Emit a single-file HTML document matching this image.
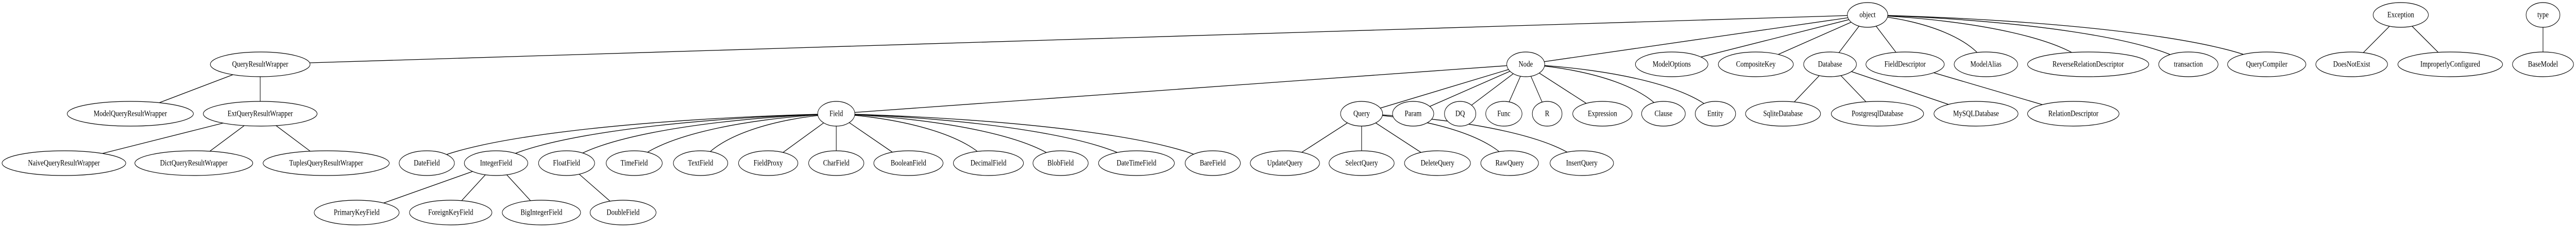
<!DOCTYPE html>
<html><head><meta charset="utf-8"><style>
html,body{margin:0;padding:0;background:#fff;width:100%;height:100%;overflow:hidden;}
svg{display:block;width:100vw;height:100vh;}
text{font-family:"Liberation Serif",serif;font-size:16px;text-anchor:middle;dominant-baseline:central;fill:#000;}
ellipse{fill:#fff;stroke:#000;stroke-width:1.2;}
path,line{stroke:#000;stroke-width:1.3;fill:none;}
</style></head><body>
<svg viewBox="0 0 6247 443" preserveAspectRatio="none" xmlns="http://www.w3.org/2000/svg">
<g>
<line x1="4529" y1="29" x2="631" y2="125"/>
<line x1="4529" y1="29" x2="3700" y2="125"/>
<line x1="4529" y1="29" x2="4054" y2="125"/>
<line x1="4529" y1="29" x2="4258" y2="125"/>
<line x1="4529" y1="29" x2="4438" y2="125"/>
<line x1="4529" y1="29" x2="4620" y2="125"/>
<path d="M4529 29 C4672 38.6 4787 77 4816 125"/>
<path d="M4529 29 C4796 38.6 5010 77 5064 125"/>
<path d="M4529 29 C4918 38.6 5229 77 5307 125"/>
<path d="M4529 29 C5013 38.6 5400 77 5497 125"/>
<line x1="631" y1="125" x2="316" y2="221"/>
<line x1="631" y1="125" x2="631" y2="221"/>
<line x1="631" y1="221" x2="155" y2="317"/>
<line x1="631" y1="221" x2="470" y2="317"/>
<line x1="631" y1="221" x2="791" y2="317"/>
<line x1="3700" y1="125" x2="2028" y2="221"/>
<line x1="3700" y1="125" x2="3302" y2="221"/>
<line x1="3700" y1="125" x2="3427" y2="221"/>
<line x1="3700" y1="125" x2="3541" y2="221"/>
<line x1="3700" y1="125" x2="3647" y2="221"/>
<line x1="3700" y1="125" x2="3752" y2="221"/>
<line x1="3700" y1="125" x2="3886" y2="221"/>
<path d="M3700 125 C3867 134.6 4000 173 4034 221"/>
<path d="M3700 125 C3930 134.6 4114 173 4160 221"/>
<path d="M2028 221 C1531 230.6 1134 269 1035 317"/>
<path d="M2028 221 C1615 230.6 1285 269 1203 317"/>
<path d="M2028 221 C1701 230.6 1439 269 1374 317"/>
<path d="M2028 221 C1783 230.6 1587 269 1538 317"/>
<path d="M2028 221 C1863 230.6 1732 269 1699 317"/>
<line x1="2028" y1="221" x2="1863" y2="317"/>
<line x1="2028" y1="221" x2="2028" y2="317"/>
<line x1="2028" y1="221" x2="2203" y2="317"/>
<path d="M2028 221 C2212 230.6 2360 269 2397 317"/>
<path d="M2028 221 C2300 230.6 2518 269 2572 317"/>
<path d="M2028 221 C2392 230.6 2683 269 2756 317"/>
<path d="M2028 221 C2484 230.6 2850 269 2941 317"/>
<line x1="1203" y1="317" x2="865" y2="413"/>
<line x1="1203" y1="317" x2="1093" y2="413"/>
<line x1="1203" y1="317" x2="1313" y2="413"/>
<line x1="1374" y1="317" x2="1511" y2="413"/>
<line x1="3302" y1="221" x2="3116" y2="317"/>
<line x1="3302" y1="221" x2="3302" y2="317"/>
<line x1="3302" y1="221" x2="3486" y2="317"/>
<path d="M3302 221 C3481 230.6 3625 269 3661 317"/>
<path d="M3302 221 C3569 230.6 3783 269 3836 317"/>
<line x1="4438" y1="125" x2="4324" y2="221"/>
<line x1="4438" y1="125" x2="4553" y2="221"/>
<line x1="4438" y1="125" x2="4792" y2="221"/>
<line x1="4620" y1="125" x2="5028" y2="221"/>
<line x1="5822" y1="29" x2="5703" y2="125"/>
<line x1="5822" y1="29" x2="5942" y2="125"/>
<line x1="6167" y1="29" x2="6167" y2="125"/>
</g>
<g>
<ellipse cx="4529" cy="29" rx="49" ry="24"/><text x="4529" y="29">object</text>
<ellipse cx="5822" cy="29" rx="67" ry="24"/><text x="5822" y="29">Exception</text>
<ellipse cx="6167" cy="29" rx="41" ry="24"/><text x="6167" y="29">type</text>

<ellipse cx="631" cy="125" rx="121" ry="24"/><text x="631" y="125">QueryResultWrapper</text>
<ellipse cx="3700" cy="125" rx="46" ry="24"/><text x="3700" y="125">Node</text>
<ellipse cx="4054" cy="125" rx="88" ry="24"/><text x="4054" y="125">ModelOptions</text>
<ellipse cx="4258" cy="125" rx="91" ry="24"/><text x="4258" y="125">CompositeKey</text>
<ellipse cx="4438" cy="125" rx="64" ry="24"/><text x="4438" y="125">Database</text>
<ellipse cx="4620" cy="125" rx="95" ry="24"/><text x="4620" y="125">FieldDescriptor</text>
<ellipse cx="4816" cy="125" rx="77" ry="24"/><text x="4816" y="125">ModelAlias</text>
<ellipse cx="5064" cy="125" rx="147" ry="24"/><text x="5064" y="125">ReverseRelationDescriptor</text>
<ellipse cx="5307" cy="125" rx="72" ry="24"/><text x="5307" y="125">transaction</text>
<ellipse cx="5497" cy="125" rx="95" ry="24"/><text x="5497" y="125">QueryCompiler</text>
<ellipse cx="5703" cy="125" rx="87" ry="24"/><text x="5703" y="125">DoesNotExist</text>
<ellipse cx="5942" cy="125" rx="127" ry="24"/><text x="5942" y="125">ImproperlyConfigured</text>
<ellipse cx="6167" cy="125" rx="74" ry="24"/><text x="6167" y="125">BaseModel</text>

<ellipse cx="316" cy="221" rx="153" ry="24"/><text x="316" y="221">ModelQueryResultWrapper</text>
<ellipse cx="631" cy="221" rx="138" ry="24"/><text x="631" y="221">ExtQueryResultWrapper</text>
<ellipse cx="2028" cy="221" rx="45" ry="24"/><text x="2028" y="221">Field</text>
<ellipse cx="3302" cy="221" rx="51" ry="24"/><text x="3302" y="221">Query</text>
<ellipse cx="3427" cy="221" rx="50" ry="24"/><text x="3427" y="221">Param</text>
<ellipse cx="3541" cy="221" rx="38" ry="24"/><text x="3541" y="221">DQ</text>
<ellipse cx="3647" cy="221" rx="44" ry="24"/><text x="3647" y="221">Func</text>
<ellipse cx="3752" cy="221" rx="36" ry="24"/><text x="3752" y="221">R</text>
<ellipse cx="3886" cy="221" rx="72" ry="24"/><text x="3886" y="221">Expression</text>
<ellipse cx="4034" cy="221" rx="53" ry="24"/><text x="4034" y="221">Clause</text>
<ellipse cx="4160" cy="221" rx="49" ry="24"/><text x="4160" y="221">Entity</text>
<ellipse cx="4324" cy="221" rx="91" ry="24"/><text x="4324" y="221">SqliteDatabase</text>
<ellipse cx="4553" cy="221" rx="112" ry="24"/><text x="4553" y="221">PostgresqlDatabase</text>
<ellipse cx="4792" cy="221" rx="102" ry="24"/><text x="4792" y="221">MySQLDatabase</text>
<ellipse cx="5028" cy="221" rx="111" ry="24"/><text x="5028" y="221">RelationDescriptor</text>

<ellipse cx="155" cy="317" rx="150" ry="24"/><text x="155" y="317">NaiveQueryResultWrapper</text>
<ellipse cx="470" cy="317" rx="143" ry="24"/><text x="470" y="317">DictQueryResultWrapper</text>
<ellipse cx="791" cy="317" rx="153" ry="24"/><text x="791" y="317">TuplesQueryResultWrapper</text>
<ellipse cx="1035" cy="317" rx="67" ry="24"/><text x="1035" y="317">DateField</text>
<ellipse cx="1203" cy="317" rx="77" ry="24"/><text x="1203" y="317">IntegerField</text>
<ellipse cx="1374" cy="317" rx="68" ry="24"/><text x="1374" y="317">FloatField</text>
<ellipse cx="1538" cy="317" rx="68" ry="24"/><text x="1538" y="317">TimeField</text>
<ellipse cx="1699" cy="317" rx="66" ry="24"/><text x="1699" y="317">TextField</text>
<ellipse cx="1863" cy="317" rx="72" ry="24"/><text x="1863" y="317">FieldProxy</text>
<ellipse cx="2028" cy="317" rx="67" ry="24"/><text x="2028" y="317">CharField</text>
<ellipse cx="2203" cy="317" rx="84" ry="24"/><text x="2203" y="317">BooleanField</text>
<ellipse cx="2397" cy="317" rx="85" ry="24"/><text x="2397" y="317">DecimalField</text>
<ellipse cx="2572" cy="317" rx="67" ry="24"/><text x="2572" y="317">BlobField</text>
<ellipse cx="2756" cy="317" rx="92" ry="24"/><text x="2756" y="317">DateTimeField</text>
<ellipse cx="2941" cy="317" rx="67" ry="24"/><text x="2941" y="317">BareField</text>
<ellipse cx="3116" cy="317" rx="84" ry="24"/><text x="3116" y="317">UpdateQuery</text>
<ellipse cx="3302" cy="317" rx="79" ry="24"/><text x="3302" y="317">SelectQuery</text>
<ellipse cx="3486" cy="317" rx="80" ry="24"/><text x="3486" y="317">DeleteQuery</text>
<ellipse cx="3661" cy="317" rx="70" ry="24"/><text x="3661" y="317">RawQuery</text>
<ellipse cx="3836" cy="317" rx="77" ry="24"/><text x="3836" y="317">InsertQuery</text>

<ellipse cx="865" cy="413" rx="103" ry="24"/><text x="865" y="413">PrimaryKeyField</text>
<ellipse cx="1093" cy="413" rx="100" ry="24"/><text x="1093" y="413">ForeignKeyField</text>
<ellipse cx="1313" cy="413" rx="95" ry="24"/><text x="1313" y="413">BigIntegerField</text>
<ellipse cx="1511" cy="413" rx="80" ry="24"/><text x="1511" y="413">DoubleField</text>
</g>
</svg>
</body></html>
